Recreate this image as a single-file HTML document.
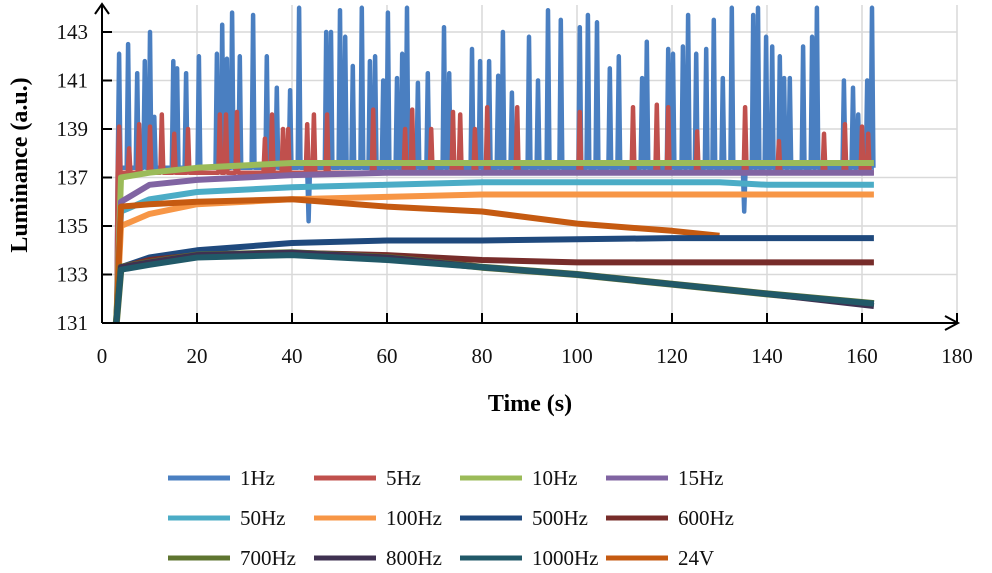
<!DOCTYPE html>
<html><head><meta charset="utf-8"><style>
body{margin:0;background:#fff;}
svg{display:block;font-family:"Liberation Serif",serif;}
</style></head><body>
<svg id="chart" width="992" height="573"></svg>
<script>
const xTicks=[0,20,40,60,80,100,120,140,160,180];
const yTicks=[131,133,135,137,139,141,143];
const trendT=[3,4,10,20,40,60,80,100,120,130,140,162.5];
const s10=[131,137,137.2,137.4,137.6,137.6,137.6,137.6,137.6,137.6,137.6,137.6];
const s15=[131,136,136.7,136.9,137.1,137.2,137.2,137.2,137.2,137.2,137.2,137.2];
const s50=[131,135.6,136.1,136.4,136.6,136.7,136.8,136.8,136.8,136.8,136.7,136.7];
const s100=[131,135,135.5,135.9,136.1,136.2,136.3,136.3,136.3,136.3,136.3,136.3];
const s500=[131,133.3,133.7,134.0,134.3,134.4,134.4,134.45,134.5,134.5,134.5,134.5];
const s600=[131,133.3,133.6,133.8,133.9,133.8,133.6,133.5,133.5,133.5,133.5,133.5];
const s700=[131,133.3,133.5,133.8,133.9,133.7,133.3,133.0,132.6,132.4,132.2,131.8];
const s800=[131,133.3,133.5,133.8,133.9,133.7,133.3,133.0,132.6,132.4,132.2,131.7];
const s1000=[131,133.2,133.4,133.7,133.8,133.6,133.3,133.0,132.6,132.4,132.2,131.8];
const t24V=[3,4,10,20,40,60,80,100,120,130];
const s24V=[131,135.8,135.9,136.0,136.1,135.8,135.6,135.1,134.8,134.6];
const spikes1T=[3.6,5.5,7.4,9,10.1,11,15,15.8,17.7,20.4,24.2,25.3,26.3,27.4,29,31.8,34.7,36.8,39.6,41.5,43.5,47.2,48.2,50.1,51.2,52.8,54.7,56.4,57.5,59.2,60.2,62.1,63.2,64.2,66.5,68.6,72,73.1,77.9,79.6,81.5,83.4,84.4,86.3,89.9,91.8,93.9,96.6,100.6,102.3,104.2,106.9,108.8,113.7,114.7,119.2,120.2,122.3,123.4,125.1,127.2,128.8,130.7,132.6,135.2,137.1,138.1,139.8,141.1,142.7,143.6,144.8,147.6,149.5,150.5,156.2,158.1,159.2,161.1,162.1];
const spikes1V=[142.1,142.5,141.3,141.8,143,139.5,141.8,141.5,141.3,142,142.1,143.3,141.9,143.8,142,143.7,142,140.7,140.6,144,135.2,143,143,143.9,142.8,141.6,144,141.8,142,141,143.8,141.1,142.1,144,140.9,141.3,143.2,141.3,142.3,141.8,141.8,141.2,143,140.5,142.8,141,143.9,143.5,143.2,143.7,143.4,141.5,142,141.1,142.6,142.3,142.1,142.4,143.7,142.1,142.3,143.5,141.1,144,135.6,143.7,144,142.8,142.4,142,141.1,141.1,142.4,142.8,144,141,140.7,139.6,141,144];
const spikes5T=[3.6,5.7,7.8,10.1,12.6,15.2,18.1,24.8,26.1,28.4,34.3,35.8,38.1,39.2,43.2,44.6,47.4,57.1,63.8,65.3,69.3,73.9,75.4,78.5,81.1,87.4,100.6,111.8,116.8,119.2,125.3,135.4,142.5,152,156.4,160,161.3];
const spikes5V=[139.1,138.2,139.2,139.1,139.6,138.8,139,139.6,139.6,139.7,138.6,139.6,139,139,139.2,139.6,139.6,139.8,139,139.8,139,139.7,139.6,139,139.9,139.9,139.7,139.9,140,139.9,138.9,139.9,138.5,138.8,139.2,139.1,138.8];
const base1=137.4, base5=137.2;

const NS="http://www.w3.org/2000/svg";
const svg=document.getElementById('chart');
const X0=102,X1=957,Y0=323,Y1=32;
const sx=v=>X0+(v-0)/(180-0)*(X1-X0);
const sy=v=>Y0-(v-131)/(143-131)*(Y0-Y1);
function el(tag,attrs,parent){const e=document.createElementNS(NS,tag);for(const k in attrs)e.setAttribute(k,attrs[k]);(parent||svg).appendChild(e);return e;}

const clip=el('clipPath',{id:'pc'});el('rect',{x:X0,y:5,width:X1-X0,height:Y0-5},clip);

xTicks.forEach(t=>{if(t===0)return;const g=el('line',{x1:sx(t),x2:sx(t),y1:5,y2:Y0,stroke:'#d9d9d9','stroke-width':1.5});

});
yTicks.forEach(v=>{if(v===131)return;const g=el('line',{x1:X0,x2:X1,y1:sy(v),y2:sy(v),stroke:'#d9d9d9','stroke-width':1.5});

});

const colors={s1:'#4a7fc1',s5:'#c0504d',s10:'#9bbb59',s15:'#8064a2',s50:'#4bacc6',s100:'#f79646',s500:'#1f497d',s600:'#772c2a',s700:'#5f7530',s800:'#3f3151',s1000:'#215968',s24:'#c55a11'};
const seriesG=el('g',{'clip-path':'url(#pc)'});


function line(ts,vs,color,name,w){const p=ts.map((t,i)=>sx(t).toFixed(1)+','+sy(vs[i]).toFixed(1)).join(' ');
const e=el('polyline',{points:p,fill:'none',stroke:color,'stroke-width':w||4,'stroke-linejoin':'round'},seriesG);

}
function spikeLine(ts,vs,base,color,name){const T=[3,3.3],V=[131,base];ts.forEach((t,i)=>{T.push(t-0.3,t,t+0.3);V.push(base,vs[i],base);});T.push(162.5);V.push(base);line(T,V,color,name,4.5);}
spikeLine(spikes1T,spikes1V,base1,colors.s1,'series-1hz');
spikeLine(spikes5T,spikes5V,base5,colors.s5,'series-5hz');
line(trendT,s10,colors.s10,'series-10hz',6);
line(trendT,s15,colors.s15,'series-15hz',6);
line(trendT,s50,colors.s50,'series-50hz',6);
line(trendT,s100,colors.s100,'series-100hz',6);
line(t24V,s24V,colors.s24,'series-24v',6);
line(trendT,s500,colors.s500,'series-500hz',6);
line(trendT,s600,colors.s600,'series-600hz',6);
line(trendT,s700,colors.s700,'series-700hz',7);
line(trendT,s800,colors.s800,'series-800hz',6);
line(trendT,s1000,colors.s1000,'series-1000hz',6);

let a=el('line',{x1:X0,x2:X0,y1:Y0,y2:4,stroke:'#000','stroke-width':2});
a=el('polyline',{points:`${X0-7},14 ${X0},4 ${X0+7},14`,fill:'none',stroke:'#000','stroke-width':2});
a=el('line',{x1:X0,x2:958,y1:Y0,y2:Y0,stroke:'#000','stroke-width':2});
a=el('polyline',{points:`945,316 958,${Y0} 945,330`,fill:'none',stroke:'#000','stroke-width':2});

xTicks.forEach(t=>{const tk=el('line',{x1:sx(t),x2:sx(t),y1:Y0-10,y2:Y0,stroke:'#000','stroke-width':2});


const tx=el('text',{x:sx(t),y:363,'font-size':21,'text-anchor':'middle',fill:'#111'});tx.textContent=t;

});
yTicks.forEach(v=>{const tk=el('line',{x1:X0,x2:X0+10,y1:sy(v),y2:sy(v),stroke:'#000','stroke-width':2});


const tx=el('text',{x:88,y:sy(v)+7,'font-size':21,'text-anchor':'end',fill:'#111'});tx.textContent=v;

});

let tt=el('text',{x:530,y:411,'font-size':24,'font-weight':'bold','text-anchor':'middle'});tt.textContent='Time (s)';

tt=el('text',{x:0,y:0,'font-size':24,'font-weight':'bold','text-anchor':'middle',transform:'translate(27,165) rotate(-90)'});tt.textContent='Luminance (a.u.)';


const legNames=['1Hz','5Hz','10Hz','15Hz','50Hz','100Hz','500Hz','600Hz','700Hz','800Hz','1000Hz','24V'];
const legCols=[colors.s1,colors.s5,colors.s10,colors.s15,colors.s50,colors.s100,colors.s500,colors.s600,colors.s700,colors.s800,colors.s1000,colors.s24];
const lg=el('g',{});
legNames.forEach((n,i)=>{const c=i%4,r=Math.floor(i/4);const x=168+c*146,y=478+r*40;
const g=el('g',{},lg);


el('line',{x1:x,x2:x+62,y1:y,y2:y,stroke:legCols[i],'stroke-width':5},g);
const t=el('text',{x:x+72,y:y+7,'font-size':21,fill:'#111'},g);t.textContent=n;});
</script>
</body></html>
